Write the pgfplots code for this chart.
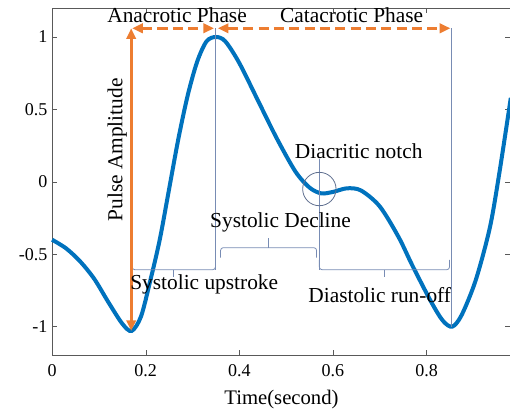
\documentclass[border=0pt]{standalone}
\usepackage{pgfplots}
\pgfplotsset{compat=1.18}
\usepackage{fontspec}
\setmainfont{Liberation Serif}
\usetikzlibrary{arrows.meta}
\definecolor{mblue}{RGB}{0,114,189}
\definecolor{morange}{RGB}{237,125,49}
\definecolor{annot}{RGB}{120,140,180}
\begin{document}
\begin{tikzpicture}
\begin{axis}[
  name=ax,
  scale only axis,
  width=343.5pt, height=260.25pt,
  xmin=0, xmax=0.98, ymin=-1.2, ymax=1.2,
  xtick={0,0.2,0.4,0.6,0.8},
  ytick={-1,-0.5,0,0.5,1},
  yticklabels={-1,-0.5,0,0.5,1},
  xticklabels={0,0.2,0.4,0.6,0.8},
  tick align=inside,
  major tick length=4pt,
  axis line style={black!65},
  tick style={black!65},
  ticklabel style={font=\fontsize{13.5}{16}\selectfont},
  xticklabel style={yshift=-3pt},
  xlabel={Time(second)},
  xlabel style={font=\fontsize{15.5}{18}\selectfont, yshift=-3pt},
  clip=false,
]
\addplot[mblue, line width=3pt, smooth, tension=0.5] coordinates {
(0,-0.40) (0.03,-0.46) (0.06,-0.55) (0.09,-0.67) (0.12,-0.83) (0.15,-0.98)
(0.17,-1.03) (0.19,-0.93) (0.21,-0.68) (0.23,-0.40) (0.25,-0.05) (0.27,0.30)
(0.29,0.60) (0.31,0.83) (0.33,0.97) (0.35,1.00) (0.37,0.97) (0.40,0.82)
(0.44,0.56) (0.48,0.30) (0.52,0.07) (0.55,-0.04) (0.575,-0.08) (0.60,-0.07)
(0.63,-0.045) (0.66,-0.06) (0.70,-0.17) (0.74,-0.38) (0.77,-0.58) (0.81,-0.83)
(0.835,-0.96) (0.855,-1.00) (0.875,-0.92) (0.905,-0.68) (0.935,-0.32)
(0.955,0.05) (0.98,0.58)
};
% thin annotation lines
\draw[annot, line width=0.6pt] (axis cs:0.349,1.06) -- (axis cs:0.349,-0.607);
\draw[annot, line width=0.6pt] (axis cs:0.571,0.16) -- (axis cs:0.571,-0.607);
\draw[annot, line width=0.6pt] (axis cs:0.853,1.06) -- (axis cs:0.853,-1.0);
% systolic upstroke brace
\draw[annot, line width=0.6pt, rounded corners=2pt] (axis cs:0.171,-0.54) -- (axis cs:0.171,-0.607) -- (axis cs:0.349,-0.607) -- (axis cs:0.349,-0.54);
\draw[annot, line width=0.6pt] (axis cs:0.26,-0.607) -- (axis cs:0.26,-0.66);
% systolic decline brace
\draw[annot, line width=0.6pt, rounded corners=2pt] (axis cs:0.36,-0.524) -- (axis cs:0.36,-0.455) -- (axis cs:0.565,-0.455) -- (axis cs:0.565,-0.524);
\draw[annot, line width=0.6pt] (axis cs:0.462,-0.455) -- (axis cs:0.462,-0.39);
% diastolic brace
\draw[annot, line width=0.6pt, rounded corners=2pt] (axis cs:0.571,-0.54) -- (axis cs:0.571,-0.607) -- (axis cs:0.849,-0.607) -- (axis cs:0.849,-0.54);
\draw[annot, line width=0.6pt] (axis cs:0.71,-0.607) -- (axis cs:0.71,-0.66);
% notch circle
\draw[annot!80!black, line width=0.6pt] (axis cs:0.571,-0.05) circle[radius=12.5pt];
% orange arrows
\draw[morange, line width=2.3pt, {Triangle[length=8pt,width=7pt]}-{Triangle[length=8pt,width=7pt]}] (axis cs:0.169,1.06) -- (axis cs:0.169,-1.03);
\draw[morange, line width=2.3pt, dash pattern=on 7.5pt off 4pt, {Triangle[length=8pt,width=7pt]}-{Triangle[length=8pt,width=7pt]}] (axis cs:0.171,1.06) -- (axis cs:0.346,1.06);
\draw[morange, line width=2.3pt, dash pattern=on 7.5pt off 4pt, {Triangle[length=8pt,width=7pt]}-{Triangle[length=8pt,width=7pt]}] (axis cs:0.354,1.06) -- (axis cs:0.851,1.06);
% texts
\node[font=\fontsize{16}{19}\selectfont] at (axis cs:0.267,1.15) {Anacrotic Phase};
\node[font=\fontsize{16}{19}\selectfont] at (axis cs:0.64,1.15) {Catacrotic Phase};
\node[font=\fontsize{16}{19}\selectfont, rotate=90] at (axis cs:0.139,0.22) {Pulse Amplitude};
\node[font=\fontsize{16}{19}\selectfont] at (axis cs:0.655,0.21) {Diacritic notch};
\node[font=\fontsize{16}{19}\selectfont] at (axis cs:0.488,-0.28) {Systolic Decline};
\node[font=\fontsize{16}{19}\selectfont] at (axis cs:0.325,-0.71) {Systolic upstroke};
\node[font=\fontsize{16}{19}\selectfont] at (axis cs:0.70,-0.78) {Diastolic run-off};
\end{axis}
\pgfresetboundingbox
\path[use as bounding box] ([xshift=-39pt,yshift=-42pt]ax.south west) rectangle ([xshift=-0.6pt,yshift=6pt]ax.north east);
\end{tikzpicture}
\end{document}
